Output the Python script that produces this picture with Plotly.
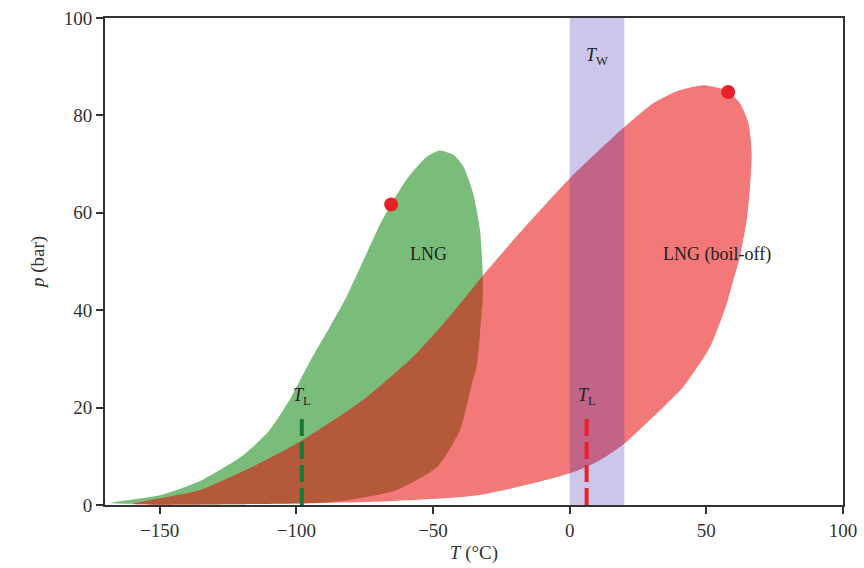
import plotly.graph_objects as go

# LNG phase envelope (T in °C, p in bar), traced clockwise
lng_T = [-168.2, -150.0, -135.0, -120.0, -110.0, -102.0, -95.0, -88.0, -81.6, -75.5,
         -69.4, -65.1, -59.6, -52.3, -47.4, -42.6, -38.9, -35.3, -32.8, -31.8,
         -31.8, -32.8, -34.0, -35.4, -40.1, -48.5, -63.2, -81.5, -93.9, -120.0, -150.0, -168.2]
lng_p = [0.4, 2.0, 5.0, 10.0, 15.2, 22.0, 29.5, 36.3, 42.8, 50.2,
         57.6, 62.0, 66.9, 71.5, 72.8, 71.9, 69.5, 64.0, 56.5, 47.6,
         42.8, 35.3, 28.4, 25.7, 15.4, 7.8, 3.1, 1.0, 0.4, 0.15, 0.1, 0.4]

# LNG boil-off phase envelope
boil_T = [-160.0, -135.2, -117.0, -98.7, -75.5, -57.2, -45.0, -31.6, -20.6,
          0.1, 20.2, 30.6, 40.4, 48.9, 55.0, 58.0, 62.3, 65.4, 66.6,
          66.0, 64.8, 62.3, 59.9, 57.5, 51.4, 41.6, 29.4, 20.2, 11.1,
          0.1, -32.8, -69.4, -93.9, -130.0, -160.0]
boil_p = [0.2, 3.1, 7.6, 13.0, 21.6, 30.5, 38.0, 47.2, 54.4,
          67.1, 77.7, 82.5, 85.2, 86.2, 85.6, 84.9, 82.5, 78.4, 72.2,
          65.4, 58.5, 51.0, 46.2, 41.4, 32.5, 24.3, 17.5, 12.7, 9.2,
          6.5, 2.05, 0.7, 0.35, 0.1, 0.2]

# critical points
crit_T = [-65.3, 58.0]
crit_p = [61.7, 84.8]

# water temperature band
Tw_range = [0, 20]
# liquid temperatures
TL_lng = -98.0
TL_boil = 6.2
TL_top = 17.8

FONT = "Liberation Serif, Times New Roman, serif"

fig = go.Figure()

fig.add_trace(go.Scatter(x=lng_T, y=lng_p, mode="lines", fill="toself",
                         fillcolor="rgba(0,128,0,0.52)", line=dict(width=0, shape="spline", smoothing=0.6),
                         hoverinfo="skip", showlegend=False))
fig.add_trace(go.Scatter(x=boil_T, y=boil_p, mode="lines", fill="toself",
                         fillcolor="rgba(232,0,0,0.53)", line=dict(width=0, shape="spline", smoothing=0.6),
                         hoverinfo="skip", showlegend=False))
fig.add_trace(go.Scatter(x=[Tw_range[0], Tw_range[1], Tw_range[1], Tw_range[0], Tw_range[0]],
                         y=[0, 0, 100, 100, 0], mode="lines", fill="toself",
                         fillcolor="rgba(70,50,180,0.28)", line=dict(width=0),
                         hoverinfo="skip", showlegend=False))
fig.add_trace(go.Scatter(x=[TL_lng, TL_lng], y=[0, TL_top], mode="lines",
                         line=dict(color="#157a35", width=4, dash="17px,6px"), showlegend=False))
fig.add_trace(go.Scatter(x=[TL_boil, TL_boil], y=[0, TL_top], mode="lines",
                         line=dict(color="#e8202a", width=4, dash="17px,6px"), showlegend=False))
fig.add_trace(go.Scatter(x=crit_T, y=crit_p, mode="markers",
                         marker=dict(color="#e8202a", size=14, line=dict(width=0)), showlegend=False))

ann = dict(font=dict(family=FONT, size=18, color="#222"), showarrow=False, xref="x", yref="y")
fig.add_annotation(x=-51.8, y=51.5, text="LNG", **ann)
fig.add_annotation(x=53.9, y=51.5, text="LNG (boil-off)", **ann)
fig.add_annotation(x=TL_lng, y=22.2, text="<i>T</i><sub>L</sub>", **ann)
fig.add_annotation(x=TL_boil, y=22.2, text="<i>T</i><sub>L</sub>", **ann)
fig.add_annotation(x=10, y=92, text="<i>T</i><sub>W</sub>", **ann)

axis_common = dict(showgrid=False, zeroline=False, showline=True, linecolor="#333", linewidth=1.8,
                   mirror=True, ticks="outside", ticklen=7, tickwidth=1.6, tickcolor="#333",
                   automargin=False,
                   tickfont=dict(family=FONT, size=19, color="#333"))
fig.update_xaxes(range=[-170, 100], tickvals=[-150, -100, -50, 0, 50, 100],
                 ticktext=["\u2212150", "\u2212100", "\u221250", "0", "50", "100"],
                 title=dict(text="<i>T</i> (°C)", font=dict(family=FONT, size=19, color="#333"), standoff=6),
                 **axis_common)
fig.update_yaxes(range=[0, 100], tickvals=[0, 20, 40, 60, 80, 100],
                 title=dict(text="<i>p</i> (bar)", font=dict(family=FONT, size=19, color="#333"), standoff=14),
                 **axis_common)
fig.update_layout(width=864, height=568, margin=dict(l=105, r=21, t=18, b=63),
                  plot_bgcolor="white", paper_bgcolor="white")

fig.write_html("out.html")
